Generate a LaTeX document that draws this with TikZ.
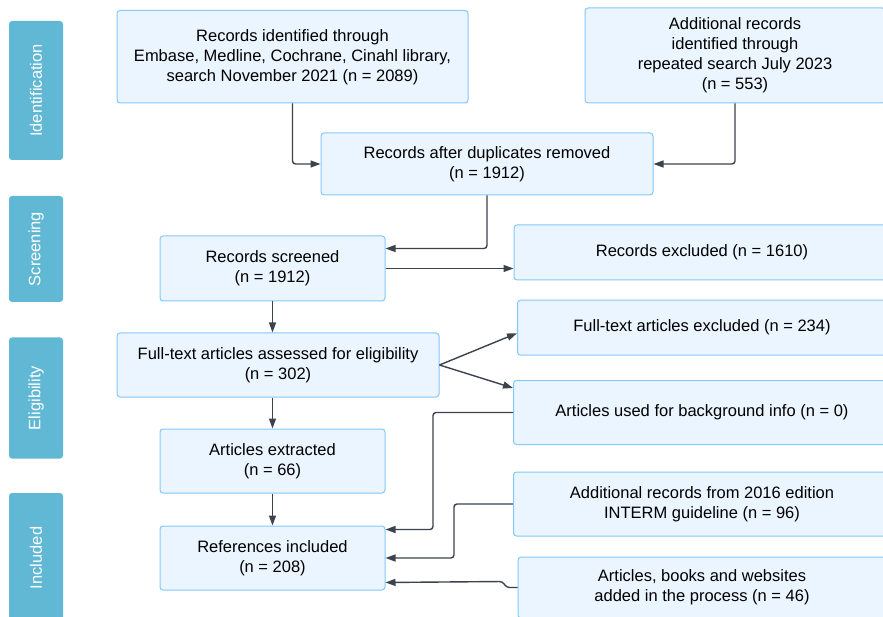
\documentclass[tikz,border=0pt]{standalone}
\usepackage{fontspec}
\setmainfont{Liberation Sans}
\usepackage{tikz}
\usetikzlibrary{arrows.meta}
\definecolor{stage}{HTML}{60B8D4}
\definecolor{boxfill}{HTML}{EBF5FF}
\definecolor{boxline}{HTML}{84C8F8}
\definecolor{link}{HTML}{3B434D}

\begin{document}
\begin{tikzpicture}[x=1pt,y=-1pt, every node/.style={font=\fontsize{16.5}{20}\selectfont,align=center,inner sep=0pt},
  b/.style={rounded corners=3pt,draw=boxline,fill=boxfill,line width=1pt},
  st/.style={rounded corners=3pt,fill=stage,text=white,rotate=90,minimum height=54pt},
  a/.style={-{Triangle[length=10pt,width=7pt]},draw=link,line width=1.4pt,rounded corners=3pt}]
  \useasboundingbox (0,0) rectangle (883,617);
  \clip (0,0) rectangle (883,617);
  \node[st,minimum width=139pt] (sid) at (36,90.5) {Identification};
  \node[st,minimum width=106pt] (sscr) at (36,249) {Screening};
  \node[st,minimum width=121pt] (selig) at (36,398) {Eligibility};
  \node[st,minimum width=130pt] (sinc) at (36,558) {Included};
  \node[b,minimum width=351pt,minimum height=92.5pt] (id) at (292.5,56.75) {Records identified through\\Embase, Medline, Cochrane, Cinahl library,\\search November 2021 (n = 2089)};
  \node[b,minimum width=300pt,minimum height=95pt] (add) at (735,55.5) {Additional records\\identified through\\repeated search July 2023\\(n = 553)};
  \node[b,minimum width=332pt,minimum height=62pt] (dup) at (487,164) {Records after duplicates removed\\(n = 1912)};
  \node[b,minimum width=225pt,minimum height=65pt] (scr) at (272.5,268.5) {Records screened\\(n = 1912)};
  \node[b,minimum width=376pt,minimum height=55pt] (exc) at (702,252.5) {Records excluded (n = 1610)};
  \node[b,minimum width=322pt,minimum height=64pt] (full) at (278,365) {Full-text articles assessed for eligibility\\(n = 302)};
  \node[b,minimum width=369pt,minimum height=55pt] (ftx) at (702,327.7) {Full-text articles excluded (n = 234)};
  \node[b,minimum width=377pt,minimum height=64pt] (bg) at (702,412.5) {Articles used for background info (n = 0)};
  \node[b,minimum width=225pt,minimum height=64pt] (ext) at (272.5,461) {Articles extracted\\(n = 66)};
  \node[b,minimum width=225pt,minimum height=64pt] (inc) at (272.5,558) {References included\\(n = 208)};
  \node[b,minimum width=377pt,minimum height=64pt] (interm) at (702,504) {Additional records from 2016 edition\\INTERM guideline (n = 96)};
  \node[b,minimum width=368pt,minimum height=61pt] (books) at (702,587.5) {Articles, books and websites\\added in the process (n = 46)};
  \draw[a] (id.south) |- (dup.west);
  \draw[a] (add.south) |- (dup.east);
  \draw[a] (dup.south) |- ([yshift=-13pt]scr.north east);
  \draw[a] (scr.east) -- (scr.east -| exc.west);
  \draw[a] (scr.south) -- (scr.south |- full.north);
  \draw[a] (full.east) -- ([yshift=-5.5pt]ftx.west);
  \draw[a] (full.east) -- ([yshift=-8pt]bg.north west);
  \draw[a] (full.south -| ext.north) -- (ext.north);
  \draw[a] (ext) -- (inc);
  \draw[a] (bg.west) -- ++(-80,0) |- ([yshift=-4pt]inc.north east);
  \draw[a] (interm.west) -- ++(-59,0) |- (inc.east);
  \draw[a] (books.west) -- ++(-11,0) -- ++(-4,-6) -- ([yshift=8pt]inc.south east);
\end{tikzpicture}
\end{document}
